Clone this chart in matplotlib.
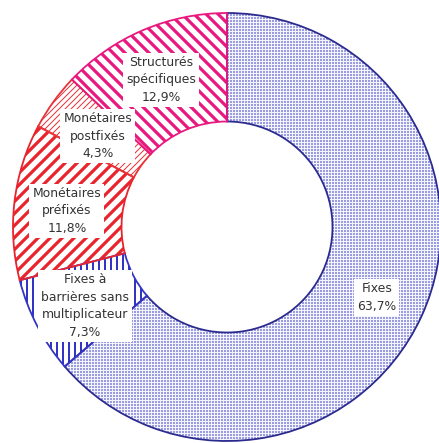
import matplotlib
matplotlib.use("Agg")
import matplotlib.pyplot as plt

# parts of the portfolio, clockwise from 12 o'clock
names = ["Fixes", "Fixes à\nbarrières sans\nmultiplicateur", "Monétaires\npréfixés",
         "Monétaires\npostfixés", "Structurés\nspécifiques"]
shares = [63.7, 7.3, 11.8, 4.3, 12.9]
share_txt = ["63,7%", "7,3%", "11,8%", "4,3%", "12,9%"]

faces = ["#9a9cdf", "white", "white", "white", "white"]
hatch_cols = ["#f4f4fc", "#3434c4", "#e8242c", "#e8343a", "#e8187f"]
edge_cols = ["#2b2b8f", "#3434c4", "#e8242c", "#e8343a", "#e8187f"]
hatches = ["++++++++", "||||", "////", "////////", "\\\\\\\\"]
hatch_lw = [0.5, 1.0, 1.6, 0.5, 1.6]

# where the white label boxes sit (data units, radius 1)
label_xy = [(0.70, -0.33), (-0.665, -0.37), (-0.748, 0.075), (-0.603, 0.425), (-0.308, 0.687)]

fig = plt.figure(figsize=(439 / 144, 443 / 144), dpi=144)
ax = fig.add_axes([0, 0, 1, 1])

wedges, _ = ax.pie(shares, startangle=90, counterclock=False, radius=1,
                   wedgeprops=dict(width=0.507, linewidth=0))
for w, fc, hc, h, lw in zip(wedges, faces, hatch_cols, hatches, hatch_lw):
    w.set_facecolor(fc)
    w.set_edgecolor(hc)
    w.set_hatch(h)
    if hasattr(w, "set_hatch_linewidth"):
        w.set_hatch_linewidth(lw)

# outlines on top
outl, _ = ax.pie(shares, startangle=90, counterclock=False, radius=1,
                 wedgeprops=dict(width=0.507, linewidth=0.9, facecolor="none"))
for w, ec in zip(outl, edge_cols):
    w.set_edgecolor(ec)

for nm, pc, (x, y) in zip(names, share_txt, label_xy):
    ax.text(x, y, nm + "\n" + pc, ha="center", va="center", fontsize=6.2,
            color="#333333", linespacing=1.45,
            bbox=dict(boxstyle="square,pad=0.25", fc="white", ec="none"))

ax.set_xlim(-227 / 214, 212 / 214)
ax.set_ylim(-216 / 214, 227 / 214)
ax.set_aspect("equal")
ax.axis("off")

fig.savefig("out.png", dpi=144)
